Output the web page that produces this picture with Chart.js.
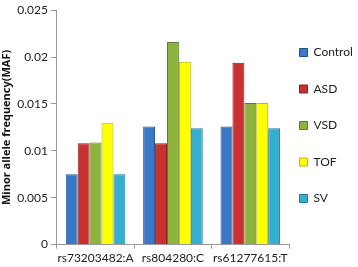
<!DOCTYPE html>
<html>
<head>
<meta charset="utf-8">
<script src="https://cdn.jsdelivr.net/npm/chart.js@4"></script>
<style>
  html, body { margin: 0; padding: 0; background: #fff; }
  #wrap { width: 358px; height: 267px; }
</style>
</head>
<body>
<div id="wrap"><canvas id="grafico"></canvas></div>
<script>
let categorias = ['rs73203482:A', 'rs804280:C', 'rs61277615:T'];
let grupos = ['Control', 'ASD', 'VSD', 'TOF', 'SV'];
let control = [0.0075, 0.0126, 0.0126];
let asd = [0.0108, 0.0108, 0.0194];
let vsd = [0.0109, 0.0216, 0.0151];
let tof = [0.0130, 0.0195, 0.0151];
let sv = [0.0075, 0.0124, 0.0124];
let ticksY = [0, 0.005, 0.01, 0.015, 0.02, 0.025];

let colores = ['#3a78c6', '#c8312f', '#8db33d', '#ffff00', '#36aed0'];
let bordes = ['#24508a', '#8a1f1d', '#5f7d24', '#b8b800', '#1f7a95'];
let series = [control, asd, vsd, tof, sv];

let datasets = grupos.map((g, i) => ({
  label: g,
  data: series[i],
  backgroundColor: colores[i],
  borderColor: bordes[i],
  borderWidth: 1,
  categoryPercentage: 0.77,
  barPercentage: 1.0
}));

let fuente = "Lato, 'Liberation Sans', sans-serif";

// la leyenda tiene mucho padding, la corro un poco a la izquierda
let moverLeyenda = {
  id: 'moverLeyenda',
  afterLayout(chart) {
    chart.legend.left -= 14;
  }
};

new Chart(document.getElementById('grafico').getContext('2d'), {
  type: 'bar',
  data: { labels: categorias, datasets: datasets },
  plugins: [moverLeyenda],
  options: {
    responsive: true,
    maintainAspectRatio: false,
    animation: false,
    layout: { padding: { top: 0, right: 0, bottom: 0, left: 0 } },
    plugins: {
      legend: {
        position: 'right',
        align: 'start',
        maxWidth: 69,
        title: { display: true, text: ' ', font: { size: 10 }, padding: { top: 10, bottom: 0 } },
        labels: {
          boxWidth: 8,
          boxHeight: 8,
          padding: 24.5,
          color: '#222',
          font: { family: fuente, size: 12 }
        }
      },
      tooltip: { enabled: false }
    },
    scales: {
      x: {
        grid: { drawOnChartArea: false, drawTicks: true, tickLength: 4, color: '#999' },
        border: { color: '#999' },
        ticks: { color: '#222', font: { family: fuente, size: 12 }, maxRotation: 0, autoSkip: false, padding: 2 }
      },
      y: {
        min: 0,
        max: 0.025,
        afterBuildTicks: axis => { axis.ticks = ticksY.map(v => ({ value: v })); },
        grid: { drawOnChartArea: false, drawTicks: true, tickLength: 6, color: '#999' },
        border: { color: '#999' },
        ticks: { color: '#222', font: { family: fuente, size: 12 }, padding: 3,
          callback: v => String(v) },
        title: {
          display: true,
          text: 'Minor allele frequency(MAF)',
          color: '#111',
          font: { family: "'Open Sans', sans-serif", size: 11, weight: 'bold' },
          padding: { top: 0, bottom: 1 }
        }
      }
    }
  }
});
</script>
</body>
</html>
